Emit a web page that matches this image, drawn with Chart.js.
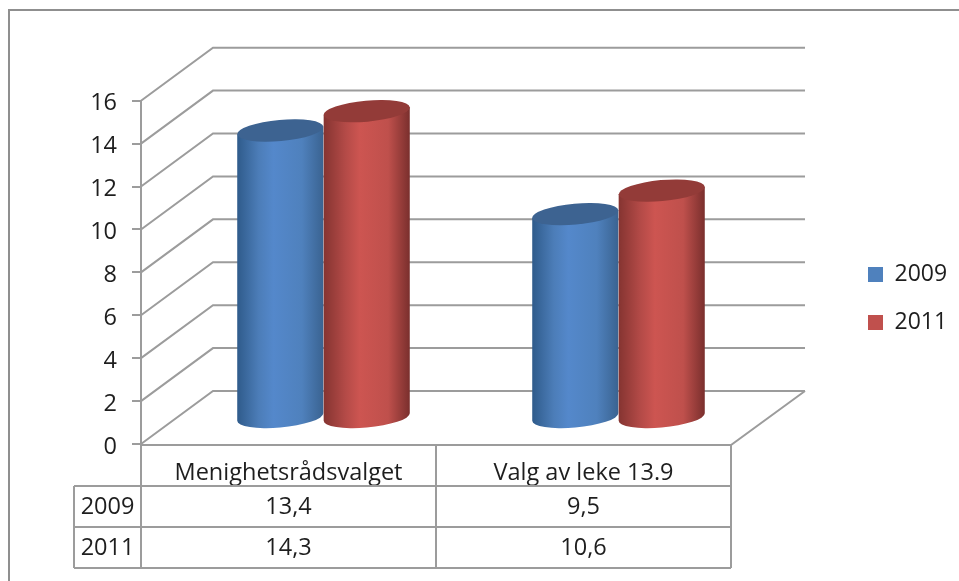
<!DOCTYPE html>
<html>
<head>
<meta charset="utf-8">
<title>Menighetsrådsvalget</title>
<script src="https://cdn.jsdelivr.net/npm/chart.js@4"></script>
<style>
  html, body { margin: 0; padding: 0; background: #fff; overflow: hidden; }
  #wrap { position: relative; width: 959px; height: 581px; }
  #frame { position: absolute; left: 8px; top: 9px; right: 0; bottom: 0; border-left: 2px solid #8f8f8f; border-top: 2px solid #8f8f8f; }
</style>
</head>
<body>
<div id="wrap">
  <div id="frame"></div>
  <canvas id="valgChart"></canvas>
</div>
<script>
// Data
const categories = ['Menighetsrådsvalget', 'Valg av leke 13.9'];
const seriesNames = ['2009', '2011'];
const values2009 = [13.4, 9.5];
const values2011 = [14.3, 10.6];
const yTicks = [0, 2, 4, 6, 8, 10, 12, 14, 16];

const FONT = { family: '"Open Sans", sans-serif', size: 23.5 };
const LEGEND_FONT = { family: '"Open Sans", sans-serif', size: 23 };
const TEXT = '#1e1e1e';
const LINE = '#9c9c9c';

// fake 3D depth of the box, and of the middle of the box where the cylinders stand
const DEPTH_X = 72, DEPTH_X_RIGHT = 74, DEPTH_Y = -53;
const MID_X = 35, MID_Y = -26;

// shading for each cylinder: left edge, light band, right edge, top lid
const shades = [
    { stops: ['#2f5b8b', '#4c7db8', '#5488cb', '#4f81bd', '#3a6391'], lid: '#3d6391' },
    { stops: ['#853431', '#b34a47', '#cd5551', '#bf504c', '#7a2f2d'], lid: '#933b38' }
];

function drawCylinder(ctx, bar, shade) {
    const rx = bar.width / 2, ry = 10.5, tilt = -0.09;
    const cx = bar.x + MID_X;
    const top = bar.y + MID_Y, bottom = bar.base + MID_Y;
    // angle where the tilted ellipse has its outermost x
    const t0 = Math.atan2(-ry * Math.sin(tilt), rx * Math.cos(tilt));
    const dx = rx * Math.cos(t0) * Math.cos(tilt) - ry * Math.sin(t0) * Math.sin(tilt);
    const dy = rx * Math.cos(t0) * Math.sin(tilt) + ry * Math.sin(t0) * Math.cos(tilt);

    const grad = ctx.createLinearGradient(cx - dx, 0, cx + dx, 0);
    [0, 0.25, 0.42, 0.75, 1].forEach((p, i) => grad.addColorStop(p, shade.stops[i]));

    ctx.beginPath();
    ctx.moveTo(cx + dx, top + dy);
    ctx.lineTo(cx + dx, bottom + dy);
    ctx.ellipse(cx, bottom, rx, ry, tilt, t0, t0 + Math.PI);
    ctx.lineTo(cx - dx, top - dy);
    ctx.closePath();
    ctx.fillStyle = grad;
    ctx.fill();

    ctx.beginPath();
    ctx.ellipse(cx, top, rx, ry, tilt, 0, Math.PI * 2);
    ctx.fillStyle = shade.lid;
    ctx.fill();
}

// walls of the 3D box and the cylinders, drawn from the scales and bar elements
const cylinderPlugin = {
    id: 'cylinders',
    beforeDatasetsDraw(chart) {
        const ctx = chart.ctx;
        const y = chart.scales.y, a = chart.chartArea;
        ctx.save();
        ctx.strokeStyle = LINE;
        ctx.lineWidth = 2;
        yTicks.forEach(v => {
            const py = y.getPixelForValue(v);
            ctx.beginPath();
            ctx.moveTo(a.left, py);
            ctx.lineTo(a.left + DEPTH_X, py + DEPTH_Y);
            ctx.lineTo(a.right + DEPTH_X_RIGHT, py + DEPTH_Y);
            ctx.stroke();
        });
        // floor front and right edge
        const y0 = y.getPixelForValue(0) + 1;
        ctx.beginPath();
        ctx.moveTo(a.left, y0);
        ctx.lineTo(a.right, y0);
        ctx.lineTo(a.right + DEPTH_X_RIGHT, y0 + DEPTH_Y - 1);
        ctx.stroke();

        chart.data.datasets.forEach((ds, i) => {
            chart.getDatasetMeta(i).data.forEach(bar => drawCylinder(ctx, bar, shades[i]));
        });
        ctx.restore();
        return false;
    },
    afterLayout(chart) {
        // put the legend out to the right of the plot
        const lg = chart.legend;
        lg.left = 843;
        lg.right = lg.left + 116;
        lg.top = 238;
        lg.bottom = lg.top + 200;
    }
};

// data table under the plot
const tablePlugin = {
    id: 'dataTable',
    afterDraw(chart) {
        const ctx = chart.ctx;
        const x = chart.scales.x, a = chart.chartArea;
        const rowTop = a.bottom + 1, row1 = 486, row2 = 527, row3 = 568, headLeft = 74;
        const mid = (x.getPixelForTick(0) + x.getPixelForTick(1)) / 2;
        ctx.save();
        ctx.strokeStyle = LINE;
        ctx.lineWidth = 2;
        ctx.beginPath();
        [a.left, mid, a.right].forEach(px => { ctx.moveTo(px, rowTop); ctx.lineTo(px, row3); });
        ctx.moveTo(headLeft, row1); ctx.lineTo(headLeft, row3);
        [row1, row2, row3].forEach(py => { ctx.moveTo(headLeft, py); ctx.lineTo(a.right, py); });
        ctx.stroke();

        ctx.fillStyle = TEXT;
        ctx.font = FONT.size + 'px ' + FONT.family;
        ctx.textAlign = 'center';
        ctx.textBaseline = 'middle';
        [values2009, values2011].forEach((vals, r) => {
            const py = (r === 0 ? (row1 + row2) : (row2 + row3)) / 2 + 1;
            ctx.fillText(seriesNames[r], (headLeft + a.left) / 2, py);
            vals.forEach((v, i) => {
                ctx.fillText(v.toFixed(1).replace('.', ','), x.getPixelForTick(i), py);
            });
        });
        ctx.restore();
    }
};

const chart = new Chart(document.getElementById('valgChart').getContext('2d'), {
    type: 'bar',
    data: {
        labels: categories,
        datasets: [
            { label: seriesNames[0], data: values2009, backgroundColor: '#4f81bd' },
            { label: seriesNames[1], data: values2011, backgroundColor: '#c0504d' }
        ]
    },
    options: {
        responsive: true,
        maintainAspectRatio: false,
        animation: false,
        layout: { padding: { top: 100.7, right: 228 } },
        datasets: { bar: { barPercentage: 1, categoryPercentage: 0.586 } },
        plugins: {
            title: { display: false },
            tooltip: { enabled: false },
            legend: {
                position: 'chartArea',
                align: 'start',
                labels: { boxWidth: 15, boxHeight: 15, padding: 25, color: TEXT, font: LEGEND_FONT }
            }
        },
        scales: {
            x: {
                afterFit(scale) { scale.height = 137; },
                grid: { display: false },
                border: { display: false },
                ticks: { color: TEXT, font: FONT, padding: 7, maxRotation: 0, autoSkip: false }
            },
            y: {
                min: 0,
                max: 16,
                afterFit(scale) { scale.width = 141; },
                afterBuildTicks(scale) { scale.ticks = yTicks.map(v => ({ value: v })); },
                grid: { drawOnChartArea: false, color: LINE, lineWidth: 2, tickLength: 9 },
                border: { color: LINE, width: 2 },
                ticks: { color: TEXT, font: FONT, padding: 15, labelOffset: 3 }
            }
        }
    },
    plugins: [cylinderPlugin, tablePlugin]
});
</script>
</body>
</html>
